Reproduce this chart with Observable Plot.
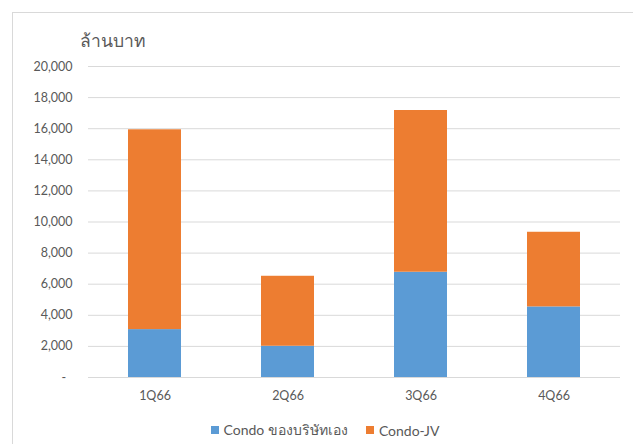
<!DOCTYPE html>
<html>
<head>
<meta charset="utf-8">
<script src="https://cdn.jsdelivr.net/npm/d3@7"></script>
<script src="https://cdn.jsdelivr.net/npm/@observablehq/plot@0.6"></script>
<style>
  html, body { margin: 0; padding: 0; background: #fff; }
  body { width: 633px; height: 444px; overflow: hidden; position: relative; font-family: Lato, "Noto Sans", "DejaVu Sans", sans-serif; }
  #frame { position: absolute; left: 12px; top: 12px; width: 640px; height: 450px; border: 1px solid #d9d9d9; box-sizing: border-box; }
  #title { position: absolute; left: 80px; top: 27px; font-size: 17.5px; color: #595959; }
  #chart { position: absolute; left: 0; top: 56px; }
  #legend { position: absolute; left: 0; width: 650px; top: 419px; display: flex; justify-content: center; gap: 18px; font-size: 14px; color: #595959; }
  .item { display: flex; align-items: center; gap: 5px; }
  .sw { width: 8px; height: 8px; display: inline-block; }
</style>
</head>
<body>
<div id="frame"></div>
<div id="title">ล้านบาท</div>
<div id="chart"></div>
<div id="legend"></div>
<script>
const quarters = ["1Q66", "2Q66", "3Q66", "4Q66"];
const seriesNames = ["Condo ของบริษัทเอง", "Condo-JV"];
const ownValues = [3080, 2010, 6770, 4540];
const jvValues = [12850, 4500, 10400, 4800];
const yTicks = [0, 2000, 4000, 6000, 8000, 10000, 12000, 14000, 16000, 18000, 20000];
const colors = ["#5b9bd5", "#ed7d31"];

const rows = [];
quarters.forEach((q, i) => {
  rows.push({quarter: q, series: seriesNames[0], value: ownValues[i]});
  rows.push({quarter: q, series: seriesNames[1], value: jvValues[i]});
});

const fmt = d3.format(",");
const chart = Plot.plot({
  width: 633,
  height: 349,
  marginLeft: 88,
  marginRight: 13,
  marginTop: 10,
  marginBottom: 28,
  style: {fontFamily: 'Lato, "Noto Sans", sans-serif', fontSize: "12.5px", color: "#595959", background: "transparent"},
  x: {domain: quarters, paddingInner: 0.6, paddingOuter: 0.3, label: null},
  y: {domain: [0, 20000], label: null},
  color: {domain: seriesNames, range: colors},
  marks: [
    Plot.ruleY(yTicks, {stroke: "#d9d9d9", strokeWidth: 1}),
    Plot.barY(rows, Plot.stackY({x: "quarter", y: "value", fill: "series", order: seriesNames})),
    Plot.axisY(yTicks, {tickSize: 0, tickPadding: 16, tickFormat: d => d === 0 ? "-\u00a0\u00a0" : fmt(d), label: null, fill: "#595959"}),
    Plot.axisX({tickSize: 0, tickPadding: 14, label: null, fill: "#595959"})
  ]
});
document.getElementById("chart").appendChild(chart);

const legend = document.getElementById("legend");
seriesNames.forEach((name, i) => {
  const item = document.createElement("div");
  item.className = "item";
  const sw = document.createElement("span");
  sw.className = "sw";
  sw.style.background = colors[i];
  const label = document.createElement("span");
  label.textContent = name;
  item.appendChild(sw);
  item.appendChild(label);
  legend.appendChild(item);
});
</script>
</body>
</html>
